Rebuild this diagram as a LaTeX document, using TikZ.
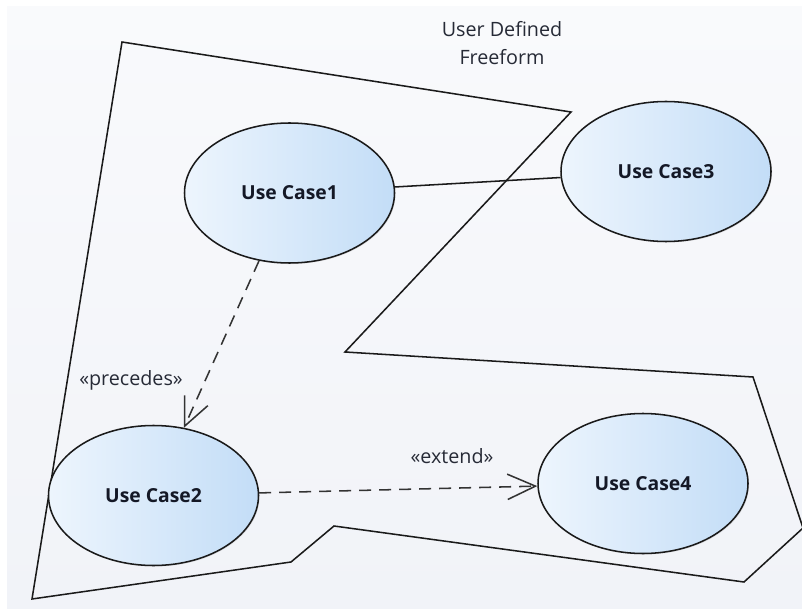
\documentclass[tikz,border=0pt]{standalone}
\usepackage{fontspec}
\setmainfont{Open Sans}
\usetikzlibrary{arrows.meta,shapes.geometric,shadows}
\definecolor{bgtop}{HTML}{F9FAFC}
\definecolor{bgbot}{HTML}{F1F3F8}
\definecolor{ucl}{HTML}{EDF5FD}
\definecolor{ucr}{HTML}{C3DDF7}
\definecolor{edgec}{HTML}{1A1A1A}
\definecolor{txt}{HTML}{141826}
\definecolor{lbltxt}{HTML}{262A36}
\definecolor{depc}{HTML}{333333}
\begin{document}
\begin{tikzpicture}[x=0.75pt,y=-0.75pt,
  usecase/.style={ellipse, draw=edgec, line width=1.15pt, inner sep=0pt,
    minimum width=157.5pt, minimum height=105pt,
    left color=ucl, right color=ucr, text=txt,
    font=\bfseries\fontsize{14.5}{17}\selectfont,
    drop shadow={shadow xshift=0.8pt, shadow yshift=-0.8pt, opacity=0.2}},
  freeform/.style={draw=edgec, line width=1.15pt, line join=miter},
  assoc/.style={draw=edgec, line width=1.15pt},
  dep/.style={draw=depc, line width=1.15pt, dash pattern=on 9pt off 6pt,
    -{Straight Barb[length=21pt, width=19pt, line width=1.15pt]}},
  lbl/.style={text=lbltxt, font=\fontsize{14.8}{17}\selectfont, inner sep=0pt}]
\useasboundingbox (0,0) rectangle (802,609);
\fill[white] (0,0) rectangle (802,609);
\shade[top color=bgtop, bottom color=bgbot] (7,7) rectangle (802,608);

% freeform shape
\draw[freeform] (122,42) -- (571,112) -- (345,352) -- (753,377) -- (803,528)
  -- (744,582) -- (334,526) -- (291,562) -- (32,599) -- cycle;

% title of the freeform
\node[lbl, align=center, font=\fontsize{14.8}{21.5}\selectfont] (title) at (502,43) {User Defined\\Freeform};

% use cases
\node[usecase] (uc1) at (289.5,193) {Use Case1};
\node[usecase] (uc3) at (666,171.5) {Use Case3};
\node[usecase] (uc2) at (153.5,495.5) {Use Case2};
\node[usecase] (uc4) at (643,483.5) {Use Case4};

% connectors
\draw[assoc] (uc1) -- (uc3);
\draw[dep] (uc1) -- (uc2);
\draw[dep] (uc2) -- (uc4);

% stereotype labels
\node[lbl] (lprec) at (131,380) {«precedes»};
\node[lbl] (lext) at (452,456) {«extend»};
\end{tikzpicture}
\end{document}
